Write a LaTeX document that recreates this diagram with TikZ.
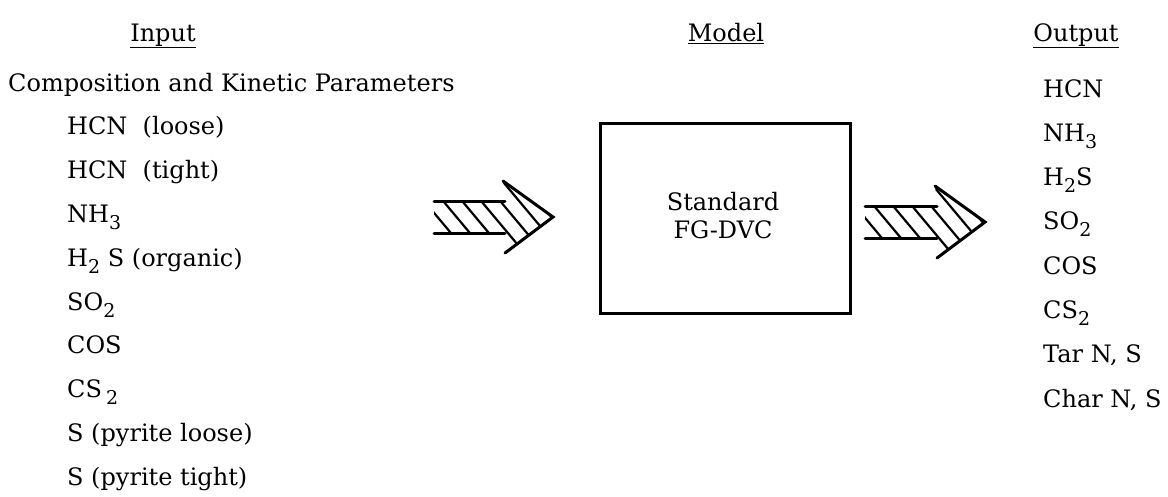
\documentclass[tikz,border=0pt]{standalone}
\usepackage{fontspec}
\setmainfont{DejaVu Serif}
\newcommand\sbs[1]{\raisebox{-7pt}{\fontsize{19}{19}\selectfont #1}}
\newcommand\hatchedarrow[4]{% name, x start, x tip, y centre
  \coordinate (#1s) at (#2,#4);
  \coordinate (#1t) at (#3,#4);
  \begin{scope}
    \clip (#2,#4-16) -- (#3-48,#4-16) -- (#3-50,#4-36) -- (#3,#4) -- (#3-48,#4+36) -- (#3-48,#4+16) -- (#2,#4+16) -- cycle;
    \foreach \k in {-1,...,9}{\draw[hatch] (#2-30+\k*19,#4-40) -- ++(67,80);}
  \end{scope}
  \draw[arrowline] (#2,#4-16) -- (#3-48,#4-16) (#2,#4+16) -- (#3-48,#4+16);
  \draw[arrowline] (#3-50,#4-36) -- (#3,#4) -- (#3-48,#4+36);
}
\begin{document}
\begin{tikzpicture}[x=1pt,y=-1pt,
  font=\fontsize{24}{28}\selectfont,
  item/.style={anchor=base west, inner sep=0pt},
  header/.style={anchor=base, inner sep=0pt},
  boxtext/.style={anchor=base, inner sep=0pt},
  modelbox/.style={draw, line width=3pt, minimum width=250pt, minimum height=190pt, inner sep=0pt},
  arrowline/.style={line width=3pt, line cap=round, line join=miter},
  hatch/.style={line width=2.2pt}]
\useasboundingbox (0,0) rectangle (1168,496);
% headers
\node[header] (hin) at (163,41) {\underline{Input}};
\node[header] (hmod) at (726,41) {\underline{Model}};
\node[header] (hout) at (1076,41) {\underline{Output}};
% input list
\node[item] (comp) at (8,91) {Composition and Kinetic Parameters};
\node[item] (i1) at (67,134.8) {HCN\ \ (loose)};
\node[item] (i2) at (67,178.6) {HCN\ \ (tight)};
\node[item] (i3) at (67,222.4) {NH\sbs{3}};
\node[item] (i4) at (67,266.2) {H\sbs{2} S (organic)};
\node[item] (i5) at (67,310) {SO\sbs{2}};
\node[item] (i6) at (67,353.8) {COS};
\node[item] (i7) at (67,397.6) {CS\,\sbs{2}};
\node[item] (i8) at (67,441.4) {S (pyrite loose)};
\node[item] (i9) at (67,485.2) {S (pyrite tight)};
% model
\node[modelbox] (box) at (725,218) {};
\node[boxtext] (std) at (723,210) {Standard};
\node[boxtext] (fg) at (723,238) {FG-DVC};
% output list
\node[item] (o1) at (1043,97) {HCN};
\node[item] (o2) at (1043,141.3) {NH\sbs{3}};
\node[item] (o3) at (1043,185.6) {H\sbs{2}S};
\node[item] (o4) at (1043,229.9) {SO\sbs{2}};
\node[item] (o5) at (1043,274.2) {COS};
\node[item] (o6) at (1043,318.5) {CS\sbs{2}};
\node[item] (o7) at (1043,362.8) {Tar N, S};
\node[item] (o8) at (1043,407.1) {Char N, S};
% block arrows
\hatchedarrow{ain}{434}{553}{217}
\hatchedarrow{aout}{865}{985}{222}
\end{tikzpicture}
\end{document}
